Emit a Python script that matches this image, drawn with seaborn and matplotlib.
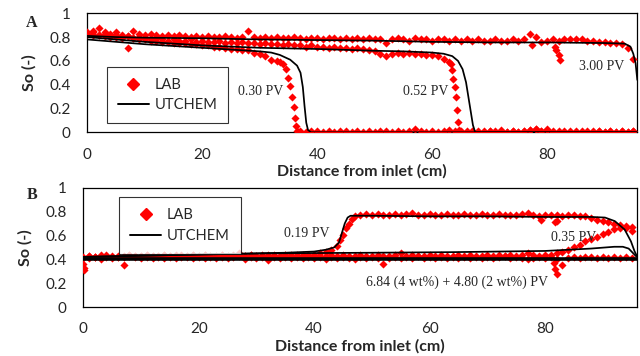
import numpy as np
import pandas as pd
import matplotlib
matplotlib.use("Agg")
import matplotlib.pyplot as plt
from matplotlib.lines import Line2D
import seaborn as sns

# ---------------- panel A data ----------------
# lab points on a 1 cm grid, plus extra points read at the fronts / outliers
lab_a_300 = [0.84, 0.85, 0.88, 0.84, 0.83, 0.84, 0.82, 0.81, 0.85, 0.83,
             0.82, 0.83, 0.82, 0.81, 0.82, 0.81, 0.82, 0.81, 0.80, 0.81,
             0.80, 0.81, 0.80, 0.80, 0.81, 0.80, 0.79, 0.80, 0.85, 0.80,
             0.79, 0.80, 0.79, 0.80, 0.79, 0.79, 0.80, 0.79, 0.78, 0.79,
             0.79, 0.78, 0.79, 0.79, 0.78, 0.79, 0.78, 0.79, 0.78, 0.79,
             0.78, 0.78, 0.75, 0.78, 0.79, 0.78, 0.77, 0.79, 0.78, 0.78,
             0.77, 0.78, 0.78, 0.77, 0.78, 0.77, 0.78, 0.77, 0.78, 0.77,
             0.77, 0.78, 0.77, 0.77, 0.78, 0.77, 0.78, 0.83, 0.80, 0.76,
             0.77, 0.78, 0.77, 0.78, 0.78, 0.78, 0.78, 0.77, 0.77, 0.76,
             0.76, 0.75, 0.75, 0.74, 0.71, 0.62]
lab_a_300_xx = [77.3, 81.3, 81.6, 82.0, 82.2]
lab_a_300_xy = [0.73, 0.72, 0.69, 0.65, 0.61]

lab_a_052 = [0.83, 0.84, 0.82, 0.83, 0.81, 0.82, 0.80, 0.81, 0.79, 0.80,
             0.79, 0.78, 0.79, 0.78, 0.77, 0.78, 0.77, 0.77, 0.78, 0.76,
             0.77, 0.76, 0.76, 0.77, 0.75, 0.76, 0.75, 0.76, 0.75, 0.75,
             0.74, 0.75, 0.74, 0.74, 0.73, 0.74, 0.73, 0.73, 0.72, 0.73,
             0.72, 0.72, 0.71, 0.72, 0.71, 0.71, 0.70, 0.71, 0.70, 0.69,
             0.68, 0.66, 0.64, 0.66, 0.67, 0.66, 0.67, 0.66, 0.66, 0.65,
             0.65, 0.64, 0.62, 0.59]  # 0..63 cm
lab_a_052_front_x = [63.2, 63.5, 63.7, 63.9, 64.1, 64.3, 64.5, 64.7]
lab_a_052_front_y = [0.57, 0.52, 0.45, 0.38, 0.30, 0.19, 0.09, 0.02]
lab_a_052_tail = [0.01, 0.00, 0.01, 0.00, 0.01, 0.01, 0.00, 0.01, 0.00, 0.01,
                  0.00, 0.01, 0.02, 0.03, 0.01, 0.02, 0.00, 0.01, 0.00, 0.01,
                  0.00, 0.01, 0.00, 0.01, 0.01, 0.00, 0.01, 0.00, 0.01, 0.00,
                  0.01]  # 65..95 cm

lab_a_030 = [0.83, 0.82, 0.82, 0.81, 0.80, 0.80, 0.79, 0.71, 0.79, 0.78,
             0.78, 0.77, 0.77, 0.76, 0.76, 0.75, 0.75, 0.75, 0.74, 0.74,
             0.73, 0.73, 0.72, 0.72, 0.71, 0.70, 0.70, 0.69, 0.69, 0.67,
             0.66, 0.64, 0.61, 0.60]  # 0..33 cm
lab_a_030_front_x = [33.6, 34.1, 34.5, 34.9, 35.3, 35.6, 35.9, 36.1, 36.3, 36.5]
lab_a_030_front_y = [0.59, 0.57, 0.53, 0.46, 0.39, 0.30, 0.21, 0.12, 0.05, 0.01]
lab_a_030_tail = [0.01, 0.00, 0.01, 0.01, 0.00, 0.01, 0.00, 0.01, 0.01, 0.00,
                  0.01, 0.00, 0.01, 0.00, 0.01, 0.01, 0.00, 0.01, 0.00, 0.01,
                  0.03, 0.01, 0.00, 0.01, 0.00, 0.01, 0.02, 0.01, 0.00, 0.01,
                  0.00, 0.01, 0.00, 0.01, 0.01, 0.02, 0.00, 0.01, 0.00, 0.01,
                  0.02, 0.03, 0.01, 0.03, 0.01, 0.00, 0.01, 0.00, 0.01, 0.00,
                  0.01, 0.00, 0.01, 0.00, 0.01, 0.00, 0.01, 0.00, 0.01]  # 37..95 cm

sim_a_300_x = [0, 5, 10, 20, 30, 40, 50, 60, 70, 80, 90, 93.5, 94.5, 95.0, 95.4, 95.7]
sim_a_300_y = [0.81, 0.80, 0.795, 0.79, 0.78, 0.775, 0.77, 0.76, 0.755, 0.755, 0.75, 0.745, 0.72, 0.66, 0.58, 0.44]
sim_a_052_x = [0, 5, 10, 20, 30, 40, 50, 55, 60, 62, 63.5, 64.5, 65.3, 65.9, 66.3, 66.7, 67.1, 67.5, 95.7]
sim_a_052_y = [0.80, 0.78, 0.76, 0.73, 0.71, 0.70, 0.685, 0.68, 0.67, 0.66, 0.64, 0.60, 0.53, 0.42, 0.30, 0.18, 0.06, 0.0, 0.0]
sim_a_030_x = [0, 5, 10, 20, 30, 32, 33.5, 35.3, 36.5, 37.1, 37.5, 37.8, 38.1, 38.4, 38.9, 95.7]
sim_a_030_y = [0.78, 0.76, 0.74, 0.71, 0.68, 0.67, 0.65, 0.61, 0.56, 0.50, 0.38, 0.22, 0.08, 0.02, 0.0, 0.0]

# ---------------- panel B data ----------------
lab_b_684 = [0.36, 0.41, 0.42, 0.40, 0.42, 0.41, 0.42, 0.35, 0.43, 0.42,
             0.41, 0.42, 0.41, 0.42, 0.41, 0.42, 0.41, 0.42, 0.42, 0.41,
             0.42, 0.41, 0.42, 0.41, 0.42, 0.41, 0.42, 0.43, 0.40, 0.42,
             0.41, 0.42, 0.39, 0.42, 0.41, 0.42, 0.41, 0.42, 0.41, 0.42,
             0.41, 0.42, 0.40, 0.42, 0.41, 0.42, 0.41, 0.40, 0.42, 0.41,
             0.42, 0.41, 0.36, 0.41, 0.42, 0.41, 0.42, 0.41, 0.43, 0.41,
             0.42, 0.41, 0.42, 0.41, 0.42, 0.41, 0.42, 0.41, 0.42, 0.41,
             0.42, 0.41, 0.42, 0.43, 0.41, 0.42, 0.41, 0.40, 0.41, 0.42,
             0.41, 0.42, 0.40, 0.35, 0.41, 0.42, 0.41, 0.42, 0.42, 0.41,
             0.42, 0.41, 0.42, 0.41, 0.42, 0.41]
lab_b_684_xx = [0.1, 0.2, 81.6, 81.8, 82.0]
lab_b_684_xy = [0.31, 0.33, 0.37, 0.32, 0.28]

lab_b_035 = [0.42, 0.43, 0.42, 0.44, 0.43, 0.42, 0.43, 0.42, 0.44, 0.43,
             0.43, 0.44, 0.43, 0.43, 0.44, 0.43, 0.44, 0.43, 0.43, 0.44,
             0.43, 0.44, 0.43, 0.43, 0.44, 0.43, 0.43, 0.44, 0.43, 0.44,
             0.43, 0.43, 0.44, 0.43, 0.43, 0.44, 0.43, 0.44, 0.43, 0.43,
             0.44, 0.43, 0.43, 0.44, 0.43, 0.44, 0.43, 0.43, 0.44, 0.43,
             0.43, 0.44, 0.43, 0.43, 0.44, 0.45, 0.43, 0.44, 0.43, 0.43,
             0.44, 0.43, 0.44, 0.43, 0.43, 0.44, 0.43, 0.44, 0.43, 0.43,
             0.44, 0.43, 0.44, 0.43, 0.44, 0.43, 0.44, 0.45, 0.44, 0.43,
             0.44, 0.44, 0.45, 0.46, 0.48, 0.50, 0.52, 0.55, 0.57, 0.59,
             0.61, 0.63, 0.65, 0.66, 0.66, 0.64]

lab_b_019 = [0.41, 0.43, 0.42, 0.43, 0.44, 0.43, 0.42, 0.43, 0.44, 0.43,
             0.43, 0.44, 0.43, 0.43, 0.44, 0.43, 0.43, 0.44, 0.43, 0.44,
             0.43, 0.44, 0.43, 0.43, 0.44, 0.43, 0.44, 0.45, 0.43, 0.44,
             0.43, 0.44, 0.43, 0.44, 0.43, 0.44, 0.44, 0.43, 0.44, 0.44,
             0.44, 0.45, 0.46, 0.48, 0.51, 0.60, 0.70, 0.76, 0.77, 0.78,
             0.77, 0.78, 0.77, 0.77, 0.78, 0.77, 0.78, 0.79, 0.77, 0.77,
             0.78, 0.77, 0.77, 0.78, 0.77, 0.77, 0.78, 0.77, 0.77, 0.78,
             0.77, 0.77, 0.78, 0.77, 0.77, 0.77, 0.78, 0.79, 0.77, 0.76,
             0.77, 0.77, 0.77, 0.76, 0.77, 0.77, 0.76, 0.76, 0.75, 0.73,
             0.72, 0.71, 0.70, 0.69, 0.68, 0.67]
lab_b_019_xx = [44.5, 45.5, 46.5, 79.3, 81.7, 82.0]
lab_b_019_xy = [0.56, 0.66, 0.74, 0.73, 0.71, 0.72]

sim_b_019_x = [0, 10, 20, 30, 35, 40, 42, 43.5, 44.3, 44.8, 45.3, 45.8, 46.3, 47, 50, 60, 70, 80, 88,
               90.4, 92.1, 93.8, 94.9, 95.5, 95.9]
sim_b_019_y = [0.42, 0.43, 0.44, 0.45, 0.455, 0.465, 0.48, 0.50, 0.54, 0.62, 0.70, 0.75, 0.765, 0.765,
               0.765, 0.76, 0.76, 0.755, 0.755, 0.75, 0.72, 0.65, 0.55, 0.47, 0.43]
sim_b_035_x = [0, 20, 32, 50, 64, 80, 88, 92, 93.5, 94.5, 95.3, 95.9]
sim_b_035_y = [0.42, 0.44, 0.45, 0.455, 0.46, 0.47, 0.49, 0.505, 0.505, 0.49, 0.45, 0.42]
sim_b_684_x = [0, 95.9]
sim_b_684_y = [0.40, 0.40]

yticks = [0, 0.2, 0.4, 0.6, 0.8, 1]
ytick_labels = ["0", "0.2", "0.4", "0.6", "0.8", "1"]
xticks = [0, 20, 40, 60, 80]

RED = "#ff0000"
SANS = ["Lato", "DejaVu Sans"]
SERIF = ["Liberation Serif", "DejaVu Serif"]

sns.set_style("white")
plt.rcParams["font.family"] = SANS


def grid(start, n):
    return list(range(start, start + n))


def lab_frame(parts):
    xs, ys = [], []
    for x, y in parts:
        xs += list(x)
        ys += list(y)
    return pd.DataFrame({"x": xs, "y": ys})


def draw_lab(ax, df):
    sns.scatterplot(data=df, x="x", y="y", ax=ax, marker="D", s=17, color=RED,
                    linewidth=0, legend=False, zorder=3)


def draw_sim(ax, x, y, lw=1.25):
    df = pd.DataFrame({"x": x, "y": y})
    sns.lineplot(data=df, x="x", y="y", ax=ax, color="black", lw=lw, sort=False,
                 estimator=None, legend=False, zorder=4)


def style_axes(ax, xmax):
    ax.set_xlim(0, xmax)
    ax.set_ylim(0, 1)
    ax.set_xticks(xticks)
    ax.set_yticks(yticks)
    ax.set_yticklabels(ytick_labels)
    ax.tick_params(direction="in", length=3, width=0.8, labelsize=11, color="black")
    ax.tick_params(axis="y", pad=12)
    ax.tick_params(axis="x", pad=11)
    for s in ax.spines.values():
        s.set_color("black")
        s.set_linewidth(0.9)
    ax.set_xlabel("Distance from inlet (cm)", fontsize=11.5, fontweight="bold", labelpad=2)
    ax.set_ylabel("So (-)", fontsize=11.5, fontweight="bold", labelpad=9)


def add_legend(ax, bbox):
    handles = [Line2D([], [], color=RED, marker="D", ls="none", markersize=6.5),
               Line2D([], [], color="black", lw=1.4)]
    leg = ax.legend(handles, ["LAB", "UTCHEM"], loc="upper left", bbox_to_anchor=bbox,
                    fontsize=10.5, frameon=True, fancybox=False, edgecolor="black",
                    handlelength=2.1, borderpad=0.75, labelspacing=0.45, handletextpad=0.4,
                    borderaxespad=0)
    leg.get_frame().set_linewidth(0.8)


fig = plt.figure(figsize=(6.4, 3.56), dpi=100)

# ---- A ----
ax_a = fig.add_axes([0.1364, 0.6284, 0.8594, 0.3343])
draw_lab(ax_a, lab_frame([(grid(0, 96), lab_a_300), (lab_a_300_xx, lab_a_300_xy)]))
draw_lab(ax_a, lab_frame([(grid(0, 64), lab_a_052), (lab_a_052_front_x, lab_a_052_front_y),
                          (grid(65, 31), lab_a_052_tail)]))
draw_lab(ax_a, lab_frame([(grid(0, 34), lab_a_030), (lab_a_030_front_x, lab_a_030_front_y),
                          (grid(37, 59), lab_a_030_tail)]))
draw_sim(ax_a, sim_a_300_x, sim_a_300_y)
draw_sim(ax_a, sim_a_052_x, sim_a_052_y)
draw_sim(ax_a, sim_a_030_x, sim_a_030_y)
style_axes(ax_a, 95.7)
add_legend(ax_a, (0.036, 0.55))
ax_a.text(30.2, 0.34, "0.30 PV", family=SERIF, fontsize=10, ha="center", va="center")
ax_a.text(58.8, 0.34, "0.52 PV", family=SERIF, fontsize=10, ha="center", va="center")
ax_a.text(89.5, 0.55, "3.00 PV", family=SERIF, fontsize=10, ha="center", va="center")
fig.text(32 / 640, 1 - 23 / 356, "A", family=SERIF, fontsize=11.5, fontweight="bold",
         ha="center", va="center")

# ---- B ----
ax_b = fig.add_axes([0.1302, 0.1376, 0.8647, 0.3351])
draw_sim(ax_b, sim_b_684_x, sim_b_684_y, lw=2.6)
draw_lab(ax_b, lab_frame([(grid(0, 96), lab_b_684), (lab_b_684_xx, lab_b_684_xy)]))
draw_lab(ax_b, lab_frame([(grid(0, 96), lab_b_035)]))
draw_lab(ax_b, lab_frame([(grid(0, 96), lab_b_019), (lab_b_019_xx, lab_b_019_xy)]))
draw_sim(ax_b, sim_b_019_x, sim_b_019_y)
draw_sim(ax_b, sim_b_035_x, sim_b_035_y)
style_axes(ax_b, 95.9)
add_legend(ax_b, (0.065, 0.92))
ax_b.text(38.8, 0.62, "0.19 PV", family=SERIF, fontsize=10, ha="center", va="center")
ax_b.text(84.9, 0.58, "0.35 PV", family=SERIF, fontsize=10, ha="center", va="center")
ax_b.text(64.8, 0.21, "6.84 (4 wt%) + 4.80 (2 wt%) PV", family=SERIF, fontsize=10,
          ha="center", va="center")
fig.text(32 / 640, 1 - 195 / 356, "B", family=SERIF, fontsize=11.5, fontweight="bold",
         ha="center", va="center")

fig.savefig("out.png", dpi=100, facecolor="white")
